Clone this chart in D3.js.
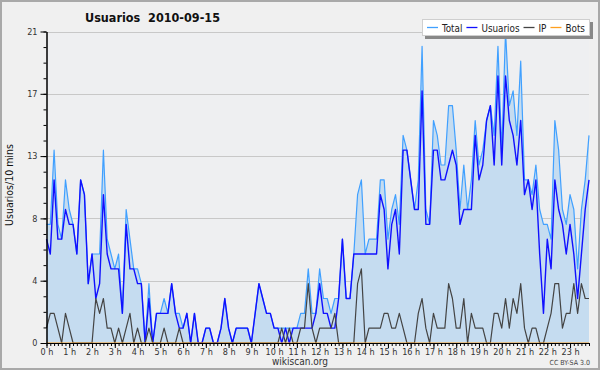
<!DOCTYPE html>
<html>
<head>
<meta charset="utf-8">
<script src="https://cdn.jsdelivr.net/npm/d3@7/dist/d3.min.js"></script>
<style>
  html, body { margin: 0; padding: 0; background: #f0f0f0; }
  svg { display: block; }
  text { font-family: "DejaVu Sans Condensed", "DejaVu Sans", sans-serif; }
</style>
</head>
<body>
<svg id="chart" width="600" height="370"></svg>
<script>
// users per 10 minutes, 144 slots (00:00 .. 23:50)
const usuarios = [
  7, 6, 11, 7, 7, 9, 8, 8, 6, 11,
  10, 4, 6, 3, 4, 10, 6, 5, 5, 5,
  2, 8, 5, 5, 4, 4, 0, 3, 0, 2,
  2, 2, 2, 4, 2, 1, 1, 2, 0, 2,
  0, 0, 1, 1, 0, 0, 1, 3, 1, 0,
  1, 1, 1, 1, 0, 2, 4, 3, 2, 2,
  1, 1, 0, 1, 0, 1, 1, 1, 1, 1,
  1, 2, 4, 2, 2, 1, 1, 3, 7, 3,
  3, 6, 6, 6, 6, 6, 6, 6, 10, 9,
  5, 8, 9, 6, 13, 13, 11, 9, 9, 17,
  8, 8, 13, 13, 11, 11, 12, 13, 12, 8,
  9, 9, 9, 14, 11, 12, 15, 16, 12, 18,
  12, 18, 15, 14, 12, 15, 10, 11, 9, 11,
  6, 2, 7, 5, 11, 9, 8, 6, 8, 6,
  3, 6, 9, 11
];
const total = [
  8, 8, 13, 8, 7, 11, 9, 8, 6, 11,
  10, 4, 6, 6, 6, 13, 7, 6, 5, 6,
  2, 9, 7, 5, 5, 4, 0, 4, 0, 2,
  2, 3, 2, 4, 2, 2, 1, 2, 0, 2,
  0, 0, 1, 1, 0, 0, 1, 3, 1, 0,
  1, 1, 1, 1, 0, 2, 4, 3, 2, 2,
  1, 1, 1, 1, 1, 1, 1, 2, 2, 5,
  2, 2, 5, 3, 3, 2, 3, 3, 7, 3,
  3, 6, 10, 11, 6, 7, 7, 7, 11, 11,
  7, 9, 10, 8, 14, 13, 11, 9, 11, 20,
  9, 8, 15, 14, 12, 12, 16, 16, 13, 9,
  12, 9, 11, 15, 12, 13, 15, 16, 14, 20,
  13, 21, 16, 17, 14, 19, 11, 11, 10, 12,
  9, 8, 8, 7, 15, 13, 9, 8, 10, 9,
  5, 9, 11, 14
];
const ip = [
  1, 2, 2, 1, 0, 2, 1, 0, 0, 0,
  0, 0, 0, 3, 2, 3, 1, 1, 0, 1,
  0, 1, 2, 0, 1, 0, 0, 1, 0, 0,
  0, 1, 0, 0, 0, 1, 0, 0, 0, 0,
  0, 0, 0, 0, 0, 0, 0, 0, 0, 0,
  0, 0, 0, 0, 0, 0, 0, 0, 0, 0,
  0, 0, 1, 0, 1, 0, 0, 1, 1, 4,
  1, 0, 1, 1, 1, 1, 2, 0, 0, 0,
  0, 0, 4, 5, 0, 1, 1, 1, 1, 2,
  2, 1, 1, 2, 1, 0, 0, 0, 2, 3,
  1, 0, 2, 1, 1, 1, 4, 3, 1, 1,
  3, 0, 2, 1, 1, 1, 0, 0, 2, 2,
  1, 3, 1, 3, 2, 4, 1, 0, 1, 1,
  0, 0, 1, 2, 4, 4, 1, 2, 2, 4,
  2, 4, 3, 3
];
const bots = new Array(144).fill(0);

const hourLabels = ["0 h", "1 h", "2 h", "3 h", "4 h", "5 h", "6 h", "7 h", "8 h", "9 h", "10 h", "11 h",
  "12 h", "13 h", "14 h", "15 h", "16 h", "17 h", "18 h", "19 h", "20 h", "21 h", "22 h", "23 h"];
const yTicks = [0, 4.2, 8.4, 12.6, 16.8, 21];
const yTickLabels = ["0", "4", "8", "13", "17", "21"];
const legendNames = ["Total", "Usuarios", "IP", "Bots"];
const legendColors = ["#40a0ff", "#1010ff", "#444444", "#ffa020"];

const svg = d3.select('#chart');
const plot = { left: 46.5, right: 589, top: 31.5, bottom: 343 };

// frame
svg.append('rect')
  .attr('x', 1).attr('y', 1)
  .attr('width', 598).attr('height', 368)
  .attr('fill', '#f0f0f0')
  .attr('stroke', '#a9a9a9')
  .attr('stroke-width', 2);

const x = d3.scaleLinear().domain([0, 1430]).range([plot.left, plot.right]);
const y = d3.scaleLinear().domain([0, 21]).range([plot.bottom, plot.top]);
const minute = (d, i) => x(i * 10);

// plot background
svg.append('rect')
  .attr('x', plot.left).attr('y', plot.top)
  .attr('width', plot.right - plot.left).attr('height', plot.bottom - plot.top)
  .attr('fill', '#eeeff1');

// grid
svg.append('g').selectAll('line')
  .data(yTicks.filter(d => d > 0))
  .join('line')
  .attr('x1', plot.left).attr('x2', plot.right)
  .attr('y1', d => Math.round(y(d)) + 0.5).attr('y2', d => Math.round(y(d)) + 0.5)
  .attr('stroke', '#c8c8c8');

// area under total
svg.append('path')
  .datum(total)
  .attr('fill', '#c5dcf0')
  .attr('d', d3.area().x(minute).y0(y(0)).y1(d => y(d)));

const line = d3.line().x(minute).y(d => y(d));
const seriesList = [total, usuarios, ip, bots];
seriesList.forEach((s, k) => {
  svg.append('path')
    .datum(s)
    .attr('fill', 'none')
    .attr('stroke', legendColors[k])
    .attr('stroke-width', k === 1 ? 1.4 : 1.2)
    .attr('stroke-linejoin', 'round')
    .attr('d', line);
});

// y axis, major + minor ticks
svg.append('g')
  .attr('transform', `translate(${plot.left},0)`)
  .call(d3.axisLeft(y).tickValues(yTicks)
    .tickFormat((d, i) => yTickLabels[i]).tickSize(6).tickSizeOuter(0).tickPadding(3));
svg.append('g')
  .attr('transform', `translate(${plot.left},0)`)
  .call(d3.axisLeft(y).tickValues(d3.range(0, 21.01, 1.05)).tickFormat('').tickSize(3).tickSizeOuter(0));

// x axis, hours + 10 minutes
svg.append('g')
  .attr('transform', `translate(0,${plot.bottom})`)
  .call(d3.axisBottom(x).tickValues(d3.range(0, 1440, 60))
    .tickFormat((d, i) => hourLabels[i]).tickSize(5).tickSizeOuter(0).tickPadding(1));
svg.append('g')
  .attr('transform', `translate(0,${plot.bottom})`)
  .call(d3.axisBottom(x).tickValues(d3.range(0, 1440, 10)).tickFormat('').tickSize(3).tickSizeOuter(0));

svg.selectAll('.domain').attr('stroke', '#000');
svg.selectAll('.tick line').attr('stroke', '#000');
svg.selectAll('.tick text')
  .attr('font-family', '"DejaVu Sans Condensed", "DejaVu Sans", sans-serif')
  .attr('font-size', 9)
  .attr('fill', '#333');

// titles
svg.append('text')
  .attr('x', 85).attr('y', 22)
  .attr('font-size', 12.5)
  .attr('font-weight', 'bold')
  .attr('fill', '#111')
  .attr('xml:space', 'preserve')
  .text('Usuarios  2010-09-15');

svg.append('text')
  .attr('transform', 'translate(13,185) rotate(-90)')
  .attr('text-anchor', 'middle')
  .attr('font-family', '"DejaVu Sans Mono", monospace')
  .attr('font-size', 10.5)
  .attr('fill', '#111')
  .text('Usuarios/10 mins');

svg.append('text')
  .attr('x', 300).attr('y', 365)
  .attr('text-anchor', 'middle')
  .attr('font-size', 10)
  .attr('fill', '#333')
  .text('wikiscan.org');

svg.append('text')
  .attr('x', 590).attr('y', 365)
  .attr('text-anchor', 'end')
  .attr('font-size', 7)
  .attr('fill', '#444')
  .text('CC BY-SA 3.0');

// legend
const legend = svg.append('g');
legend.append('rect')
  .attr('x', 425).attr('y', 22).attr('width', 168).attr('height', 17)
  .attr('fill', '#888');
legend.append('rect')
  .attr('x', 422.5).attr('y', 19.5).attr('width', 167).attr('height', 16)
  .attr('fill', '#fff').attr('stroke', '#cfcfcf');
let lx = 427;
legendNames.forEach((name, k) => {
  legend.append('line')
    .attr('x1', lx).attr('x2', lx + 11)
    .attr('y1', 27.5).attr('y2', 27.5)
    .attr('stroke', legendColors[k]).attr('stroke-width', 1.3);
  const t = legend.append('text')
    .attr('x', lx + 15).attr('y', 31.5)
    .attr('font-size', 9.8)
    .attr('fill', '#222')
    .text(name);
  lx += 15 + t.node().getComputedTextLength() + 4;
});
</script>
</body>
</html>
